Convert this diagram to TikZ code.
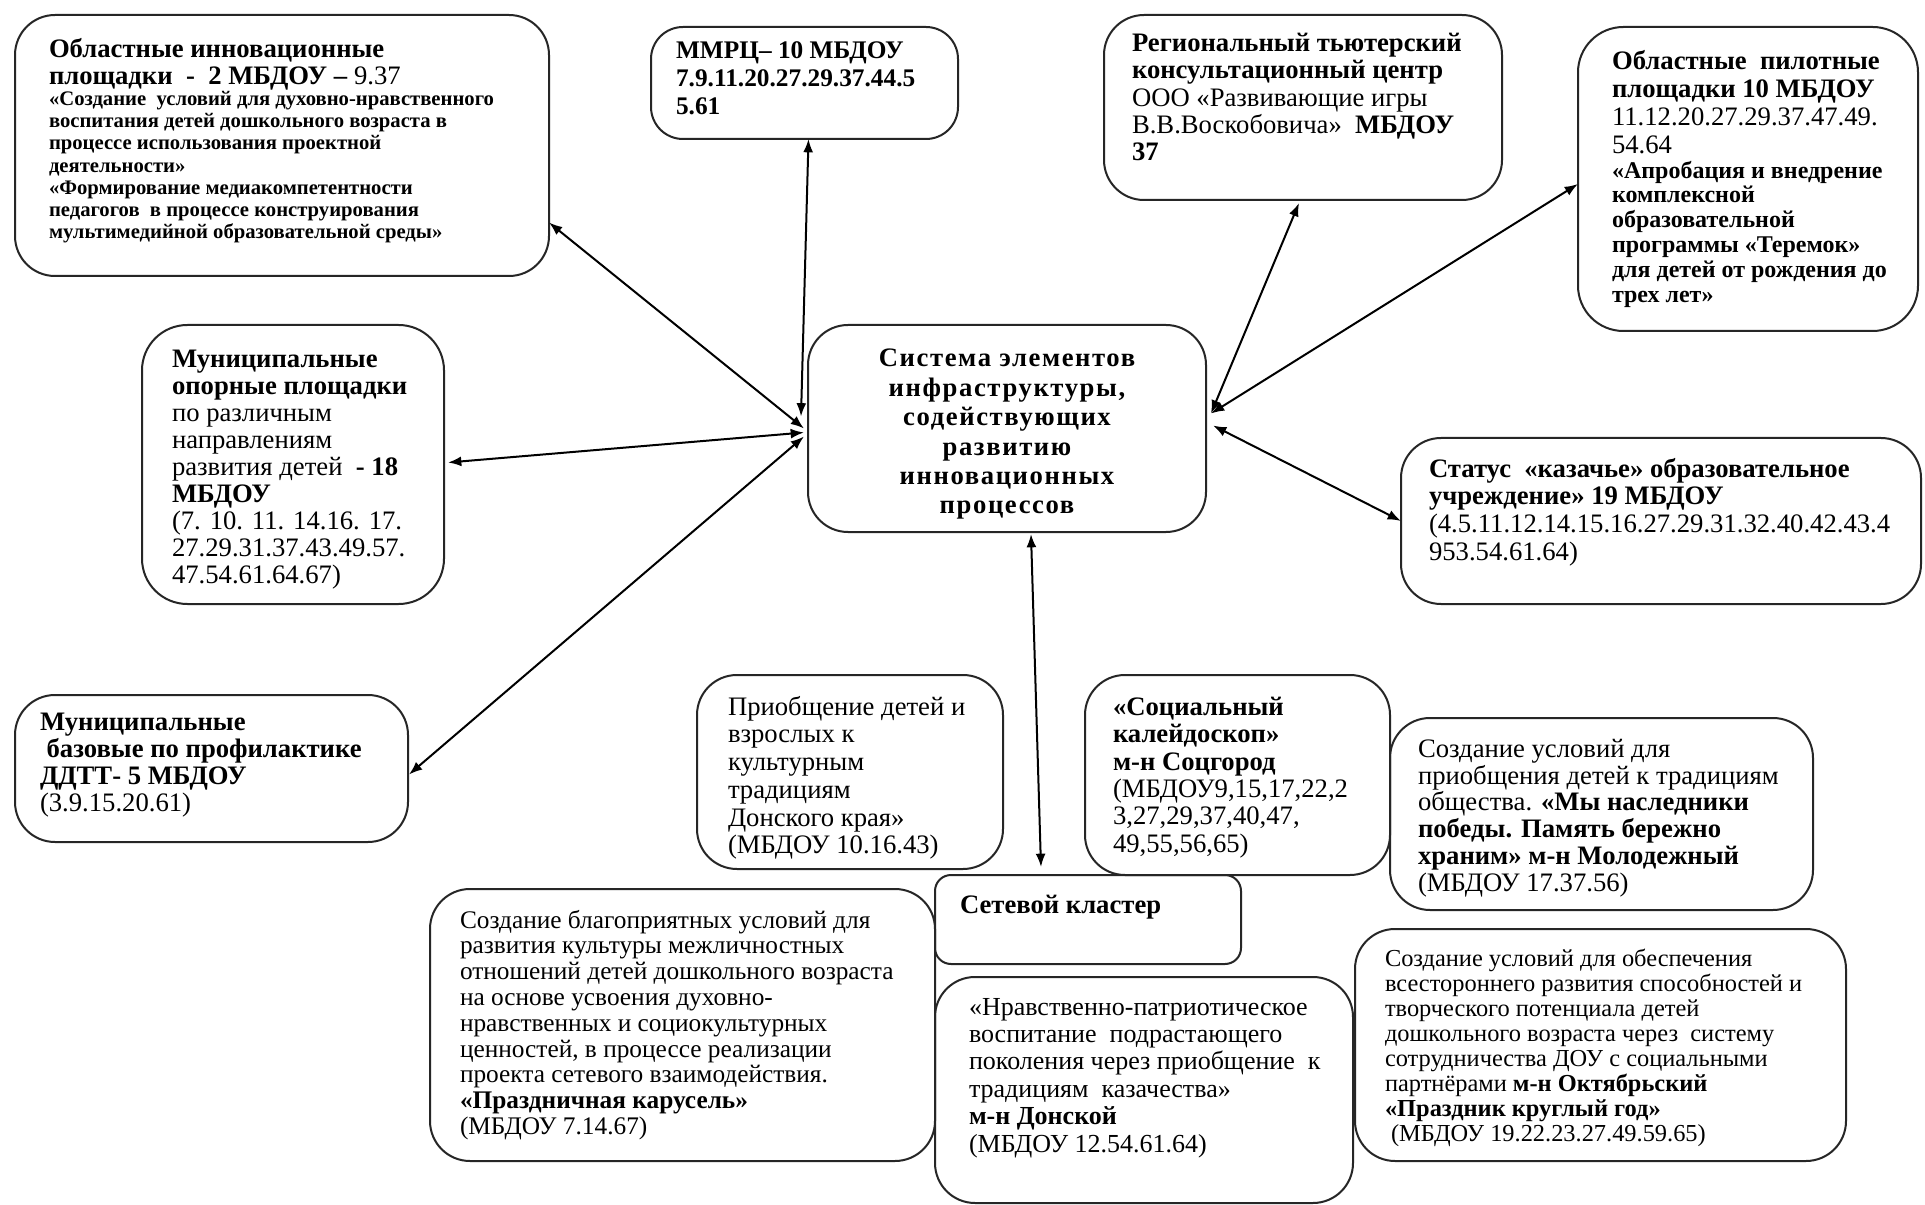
\documentclass[tikz,border=0pt]{standalone}
\usepackage{fontspec}
\setmainfont{Liberation Serif}
\usetikzlibrary{fit,arrows.meta,calc}
\newcommand\myfs[2]{\fontsize{#1pt}{#2pt}\selectfont}
\begin{document}
\begin{tikzpicture}[x=0.75pt,y=-0.75pt,
  box/.style={draw=black!85, line width=1.5pt, rounded corners=30pt, inner sep=0pt, outer sep=0pt},
  txt/.style={anchor=north west, inner sep=0pt, outer sep=0pt, align=left, font=\myfs{20}{20.5}},
  arr/.style={line width=1.5pt, {Latex[length=10pt,width=7.5pt]}-{Latex[length=10pt,width=7.5pt]}}]
\useasboundingbox (0,0) rectangle (1925,1205);
\fill[white] (0,0) rectangle (1925,1205);
% boxes
\node[box, fit={(15,15) (549,276)}] (A) {};
\node[box, rounded corners=24pt, fit={(651,27) (958,139)}] (B) {};
\node[box, fit={(1104,15) (1502,200)}] (C) {};
\node[box, rounded corners=34pt, fit={(1578,27) (1918,331)}] (D) {};
\node[box, rounded corners=34pt, fit={(142,325) (444,604)}] (E) {};
\node[box, fit={(808,325) (1206,532)}] (F) {};
\node[box, fit={(1401,438) (1921,604)}] (G) {};
\node[box, fit={(15,695) (408,842)}] (H) {};
\node[box, fit={(697,675) (1003,869)}] (I) {};
\node[box, fit={(1085,675) (1390,875)}] (J) {};
\node[box, fit={(1390,718) (1813,910)}] (K) {};
\node[box, rounded corners=12pt, fit={(935,875) (1241,964)}] (L) {};
\node[box, fit={(430,889) (935,1161)}] (M) {};
\node[box, fit={(935,977) (1353,1203)}] (N) {};
\node[box, fit={(1355,929) (1846,1161)}] (O) {};
% texts
\node[txt, font=\myfs{20}{20.25}] (At) at (49,38) {\textbf{Областные инновационные}\\
\textbf{площадки~~-~~2 МБДОУ –} 9.37};
\node[txt, font=\bfseries\myfs{15.5}{16.7}] (Ab) at (49,91) {«Создание~ условий для духовно-нравственного\\
воспитания детей дошкольного возраста в\\
процессе использования проектной\\
деятельности»\\
«Формирование медиакомпетентности\\
педагогов~ в процессе конструирования\\
мультимедийной образовательной среды»};
\node[txt, font=\bfseries\myfs{19}{21}] (Bt) at (676,42) {ММРЦ– 10 МБДОУ\\
7.9.11.20.27.29.37.44.5\\
5.61};
\node[txt] (Ct) at (1132,33) {\textbf{Региональный тьютерский}\\
\textbf{консультационный центр}\\
ООО «Развивающие игры\\
В.В.Воскобовича»~ \textbf{МБДОУ}\\
\textbf{37}};
\node[txt, font=\myfs{20}{21}] (Dt) at (1612,50) {\textbf{Областные~ пилотные}\\
\textbf{площадки 10 МБДОУ}\\
11.12.20.27.29.37.47.49.\\
54.64};
\node[txt, font=\bfseries\myfs{18}{18.6}] (Db) at (1612,161) {«Апробация и внедрение\\
комплексной\\
образовательной\\
программы «Теремок»\\
для детей от рождения до\\
трех лет»};
\node[txt, font=\myfs{20}{20.25}] (Et) at (172,350) {\textbf{Муниципальные}\\
\textbf{опорные площадки}\\
по различным\\
направлениям\\
развития детей~ \textbf{- 18}\\
\textbf{МБДОУ}\\
(7. 10. 11. 14.16. 17.\\
27.29.31.37.43.49.57.\\
47.54.61.64.67)};
\node[txt, anchor=north, align=center, font=\bfseries\myfs{20}{22.1}\addfontfeature{LetterSpace=6}] (Ft) at (1007,349) {Система элементов\\
инфраструктуры,\\
содействующих\\
развитию\\
инновационных\\
процессов};
\node[txt, font=\myfs{20}{20.8}] (Gt) at (1429,458) {\textbf{Статус~ «казачье» образовательное}\\
\textbf{учреждение» 19 МБДОУ}\\
(4.5.11.12.14.15.16.27.29.31.32.40.42.43.4\\
953.54.61.64)};
\node[txt, font=\myfs{20}{20.25}] (Ht) at (40,713) {\textbf{Муниципальные}\\
\textbf{~базовые по профилактике}\\
\textbf{ДДТТ- 5 МБДОУ}\\
(3.9.15.20.61)};
\node[txt, font=\myfs{20}{20.8}] (It) at (728,696) {Приобщение детей и\\
взрослых к\\
культурным\\
традициям\\
Донского края»\\
(МБДОУ 10.16.43)};
\node[txt, font=\myfs{20}{20.5}] (Jt) at (1113,697) {\textbf{«Социальный}\\
\textbf{калейдоскоп»}\\
\textbf{м-н Соцгород}\\
(МБДОУ9,15,17,22,2\\
3,27,29,37,40,47,\\
49,55,56,65)};
\node[txt, font=\myfs{20}{20.1}] (Kt) at (1418,739) {Создание условий для\\
приобщения детей к традициям\\
общества. \textbf{«Мы наследники}\\
\textbf{победы. Память бережно}\\
\textbf{храним» м-н Молодежный}\\
(МБДОУ 17.37.56)};
\node[txt, font=\bfseries\myfs{20}{20.5}] (Lt) at (960,895) {Сетевой кластер};
\node[txt, font=\myfs{19}{19.35}] (Mt) at (460,910) {Создание благоприятных условий для\\
развития культуры межличностных\\
отношений детей дошкольного возраста\\
на основе усвоения духовно-\\
нравственных и социокультурных\\
ценностей, в процессе реализации\\
проекта сетевого взаимодействия.\\
\textbf{«Праздничная карусель»}\\
(МБДОУ 7.14.67)};
\node[txt, font=\myfs{19.5}{20.6}] (Nt) at (969,998) {«Нравственно-патриотическое\\
воспитание~ подрастающего\\
поколения через приобщение~ к\\
традициям~ казачества»\\
\textbf{м-н Донской}\\
(МБДОУ 12.54.61.64)};
\node[txt, font=\myfs{18.3}{18.75}] (Ot) at (1385,949) {Создание условий для обеспечения\\
всестороннего развития способностей и\\
творческого потенциала детей\\
дошкольного возраста через~ систему\\
сотрудничества ДОУ с социальными\\
партнёрами \textbf{м-н Октябрьский}\\
\textbf{«Праздник круглый год»}\\
~(МБДОУ 19.22.23.27.49.59.65)};
% connectors
\draw[arr] ($(A.east)+(0,77)$) -- ($(F.west)+(-4,0)$);
\draw[arr] ($(B.south)+(4,0)$) -- ($(F.west)+(-7,-12)$);
\draw[arr] ($(E.east)+(4,-2)$) -- ($(F.west)+(-4,4)$);
\draw[arr] ($(H.east)+(1,6)$) -- ($(F.west)+(-4,8)$);
\draw[arr] ($(C.south)+(-4,3)$) -- ($(F.east)+(5,-15)$);
\draw[arr] ($(D.west)+(0,5)$) -- ($(F.east)+(5,-15)$);
\draw[arr] (G.west) -- ($(F.east)+(7,-3)$);
\draw[arr] ($(F.south)+(24,2)$) -- ($(L.north west)+(106,-8)$);
\end{tikzpicture}
\end{document}
